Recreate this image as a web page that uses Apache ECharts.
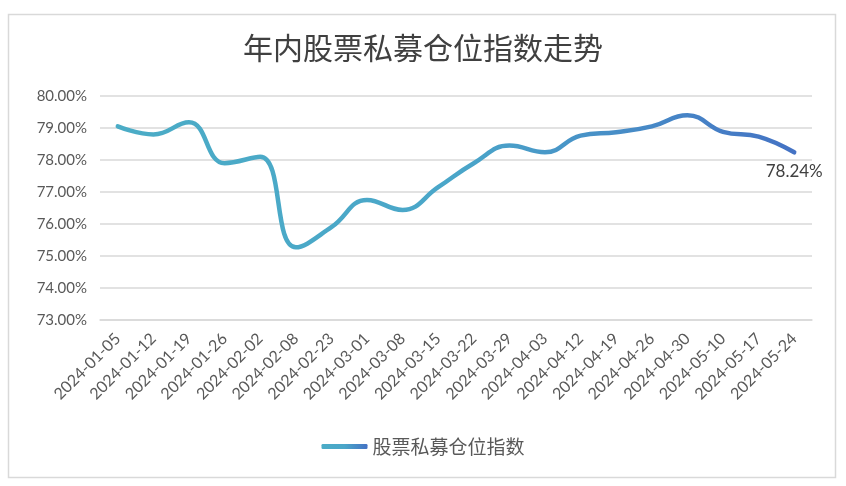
<!DOCTYPE html>
<html><head><meta charset="utf-8">
<script src="https://cdn.jsdelivr.net/npm/echarts@6/dist/echarts.min.js"></script>
<style>html,body{margin:0;padding:0;background:#fff}#c{width:846px;height:486px}</style>
</head><body><div id="c"></div>
<script>
const categories = ['2024-01-05','2024-01-12','2024-01-19','2024-01-26','2024-02-02','2024-02-08','2024-02-23','2024-03-01','2024-03-08','2024-03-15','2024-03-22','2024-03-29','2024-04-03','2024-04-12','2024-04-19','2024-04-26','2024-04-30','2024-05-10','2024-05-17','2024-05-24'];
const values = [79.05,78.80,79.18,77.90,78.10,75.27,75.90,76.75,76.44,77.15,77.90,78.45,78.24,78.76,78.87,79.05,79.40,78.88,78.73,78.24];
const seriesName = '股票私募仓位指数';
const titleText = '年内股票私募仓位指数走势';

const chart = echarts.init(document.getElementById('c'), null, {renderer:'canvas'});
const grad = new echarts.graphic.LinearGradient(0,0,1,0,[
  {offset:0,color:'#4BACC6'},{offset:0.5,color:'#4AA6C9'},{offset:1,color:'#4472C4'}]);
chart.setOption({
  animation:false,
  backgroundColor:'#fff',
  graphic:[{type:'rect',shape:{x:8.5,y:14.5,width:827,height:463},style:{fill:'none',stroke:'#d9d9d9',lineWidth:1.5},silent:true}],
  title:{text:titleText,left:'center',top:28,textStyle:{fontFamily:'Noto Sans CJK SC',fontSize:30,fontWeight:'normal',color:'#404040'}},
  legend:{bottom:25,left:'center',itemWidth:46,itemHeight:5,icon:'roundRect',itemGap:8,
    textStyle:{fontFamily:'Noto Sans CJK SC',fontSize:19,color:'#595959'},data:[seriesName]},
  grid:{left:100,right:34,top:96,bottom:166},
  xAxis:{type:'category',data:categories,boundaryGap:true,
    axisLine:{show:true,lineStyle:{color:'#d9d9d9',width:1.5}},axisTick:{show:false},
    axisLabel:{rotate:45,interval:0,fontFamily:'Lato',fontSize:16,color:'#595959',margin:16}},
  yAxis:{type:'value',min:73,max:80,interval:1,
    axisLine:{show:false},axisTick:{show:false},
    splitLine:{lineStyle:{color:'#d9d9d9',width:1.5}},
    axisLabel:{formatter:v=>v.toFixed(2)+'%',fontFamily:'Lato',fontSize:15,color:'#595959',margin:13}},
  series:[{name:seriesName,type:'line',data:values,smooth:0.45,showSymbol:false,symbol:'none',
    lineStyle:{width:4.5,color:grad,cap:'round'},itemStyle:{color:grad},
    markPoint:{symbol:'circle',symbolSize:0,
      data:[{coord:[categories.length-1,values[values.length-1]],value:values[values.length-1]}],
      label:{show:true,position:'bottom',distance:11,formatter:p=>p.value.toFixed(2)+'%',
        fontFamily:'Lato',fontSize:17,color:'#404040'}}
  }]
});
</script></body></html>
